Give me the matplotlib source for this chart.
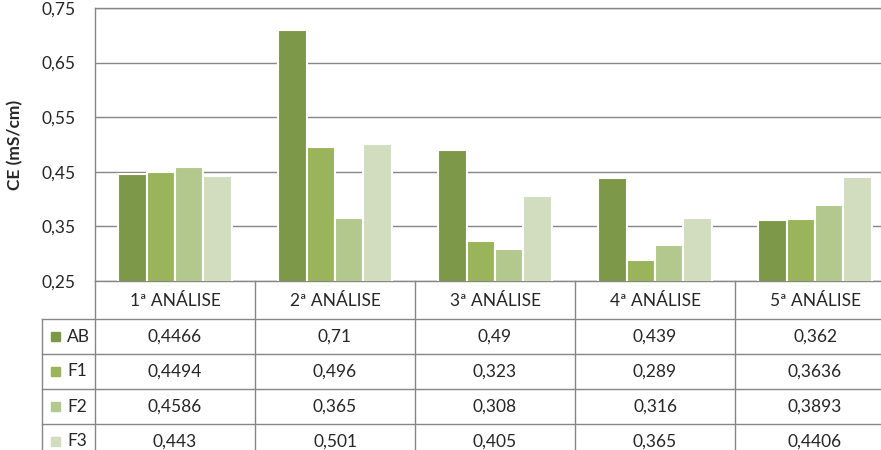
import numpy as np
import matplotlib
matplotlib.use('Agg')
import matplotlib.pyplot as plt
from matplotlib.transforms import blended_transform_factory
from matplotlib.patches import Rectangle

categories = ['1ª ANÁLISE', '2ª ANÁLISE', '3ª ANÁLISE', '4ª ANÁLISE', '5ª ANÁLISE']
series = ['AB', 'F1', 'F2', 'F3']
ab = [0.4466, 0.71, 0.49, 0.439, 0.362]
f1 = [0.4494, 0.496, 0.323, 0.289, 0.3636]
f2 = [0.4586, 0.365, 0.308, 0.316, 0.3893]
f3 = [0.443, 0.501, 0.405, 0.365, 0.4406]
yticks = [0.25, 0.35, 0.45, 0.55, 0.65, 0.75]

values = [ab, f1, f2, f3]
colors = ['#7E984A', '#99B45A', '#B3C88C', '#D1DDBE']
grid_c = '#868686'

plt.rcParams['font.family'] = ['Lato', 'DejaVu Sans']

W, H = 881, 450
fig = plt.figure(figsize=(W / 100, H / 100), dpi=100)
fig.patch.set_facecolor('white')

# plot area runs past the right edge, like the cropped original
ax = fig.add_axes([95 / W, (H - 281) / H, 800 / W, 273 / H])
x = np.arange(len(categories))
w = 0.178
for i, (name, vals) in enumerate(zip(series, values)):
    ax.bar(x + (i - 1.5) * w, vals, width=w, bottom=0, color=colors[i],
           edgecolor='white', linewidth=1.5, zorder=3)

ax.set_xlim(-0.5, len(categories) - 0.5)
ax.set_ylim(0.25, 0.75)
ax.set_yticks(yticks)
ax.set_yticklabels([f'{t:.2f}'.replace('.', ',') for t in yticks], fontsize=12.5, color='#262626')
ax.set_xticks([])
ax.tick_params(axis='y', length=0, pad=14)
ax.grid(axis='y', color=grid_c, linewidth=1, zorder=0)
for s in ax.spines.values():
    s.set_color(grid_c)
    s.set_linewidth(1)

fig.text(15 / W, 1 - 145 / H, 'CE (mS/cm)', rotation=90, ha='center', va='center',
         fontsize=12.5, fontweight='bold', color='#262626')

# data table under the plot, drawn in pixel coordinates
ov = fig.add_axes([0, 0, 1, 1])
ov.set_xlim(0, W)
ov.set_ylim(H, 0)
ov.axis('off')
ov.patch.set_alpha(0)
bt = blended_transform_factory(ax.transData, ov.transData)

top, row_h, head_h = 281, 35, 38
for k in range(len(categories) + 1):
    ov.plot([k - 0.5, k - 0.5], [top, H], color=grid_c, lw=1, transform=bt, clip_on=False)
ov.plot([42, 42], [top + head_h, H], color=grid_c, lw=1)
for r in range(len(series)):
    yy = top + head_h + r * row_h
    ov.plot([42, W], [yy, yy], color=grid_c, lw=1)

for i, c in enumerate(categories):
    ov.text(i, top + head_h / 2 + 1, c, transform=bt, ha='center', va='center',
            fontsize=12.5, color='#262626')

for r, (name, vals) in enumerate(zip(series, values)):
    yc = top + head_h + r * row_h + row_h / 2
    ov.add_patch(Rectangle((51, yc - 5), 9, 9, color=colors[r]))
    ov.text(67, yc, name, ha='left', va='center', fontsize=12.5, color='#262626')
    for i, v in enumerate(vals):
        ov.text(i, yc, str(v).replace('.', ','), transform=bt, ha='center', va='center',
                fontsize=12.5, color='#262626')

fig.savefig('out.png', dpi=100, facecolor='white')
